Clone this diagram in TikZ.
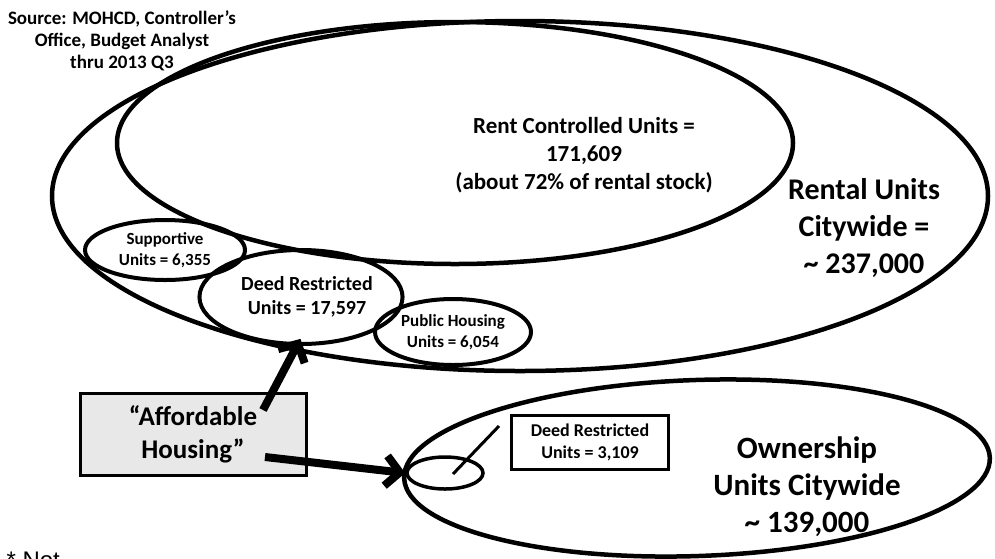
\documentclass[tikz,border=0pt]{standalone}
\usepackage{fontspec}
\setmainfont{Carlito}
\newfontfamily\notefont{Liberation Sans}
\usepackage{tikz}
\usetikzlibrary{shapes.geometric, arrows.meta}
\tikzstyle{bigoval} = [ellipse, draw=black, line width=4.5pt, inner sep=0pt]
\tikzstyle{smalloval} = [ellipse, draw=black, line width=4pt, inner sep=0pt, align=center, font=\bfseries\fontsize{17}{21}\selectfont]
\tikzstyle{bigtext} = [align=center, font=\bfseries\fontsize{30}{37}\selectfont]
\tikzstyle{boxnode} = [rectangle, draw=black, line width=3pt, inner sep=0pt, align=center]
\tikzstyle{bigarrow} = [line width=8pt, -{Straight Barb[length=14pt, width=30pt]}]

\begin{document}
\begin{tikzpicture}[x=1pt, y=-1pt]
\useasboundingbox (0,0) rectangle (995,558);
\clip (0,0) rectangle (995,558);

% rental stock
\node (rental) [bigoval, minimum width=936pt, minimum height=350pt] at (520,196) {};
\node (rentctrl) [bigoval, minimum width=676pt, minimum height=242pt] at (455,143) {};
\node (rentaltext) [bigtext] at (864,228) {Rental Units\\Citywide =\\\textasciitilde\ 237,000};
\node (rentctrltext) [align=center, font=\bfseries\fontsize{23}{28}\selectfont] at (584,155) {Rent Controlled Units =\\171,609\\(about 72\% of rental stock)};
\node (source) [align=center, font=\bfseries\fontsize{19}{22}\selectfont] at (122,41) {Source: MOHCD, Controller’s\\Office, Budget Analyst\\thru 2013 Q3};

\node (supportive) [smalloval, minimum width=160pt, minimum height=60pt] at (165,250) {Supportive\\Units = 6,355};
\node (deed) [smalloval, minimum width=200pt, minimum height=94pt, font=\bfseries\fontsize{20}{24}\selectfont] at (301,297) {\hspace*{12pt}Deed Restricted\\\hspace*{12pt}Units = 17,597};
\node (public) [smalloval, minimum width=156pt, minimum height=66pt] at (453,332) {Public Housing\\Units = 6,054};

% ownership stock
\node (ownership) [bigoval, minimum width=586pt, minimum height=176pt, rotate=2] at (697,468) {};
\node (ownertext) [bigtext, font=\bfseries\fontsize{31}{37}\selectfont] at (807,487) {Ownership\\Units Citywide\\\textasciitilde\ 139,000};
\node (smallown) [ellipse, draw=black, line width=3.5pt, minimum width=76pt, minimum height=32pt] at (445,473) {};
\node (deedown) [boxnode, minimum width=157pt, minimum height=54pt, font=\bfseries\fontsize{18}{22}\selectfont] at (590,442) {Deed Restricted\\Units = 3,109};
\coordinate (leadend) at (499,426);
\draw [line width=3pt] (smallown.center) ++(8,1) -- (leadend);

% affordable housing
\node (afford) [boxnode, fill=gray!18, minimum width=226pt, minimum height=82pt, font=\bfseries\fontsize{27}{33}\selectfont] at (193,434) {“Affordable\\Housing”};
\coordinate (afftop) at (263,410);
\coordinate (affright) at (265,457);
\draw [bigarrow, shorten >=-8pt] (afftop) -- (deed.-95);
\draw [bigarrow] (affright) -- (smallown.west);

\node (note) [anchor=base west, font=\notefont\fontsize{24}{28}\selectfont] at (3,568) {* Not};
\end{tikzpicture}
\end{document}
